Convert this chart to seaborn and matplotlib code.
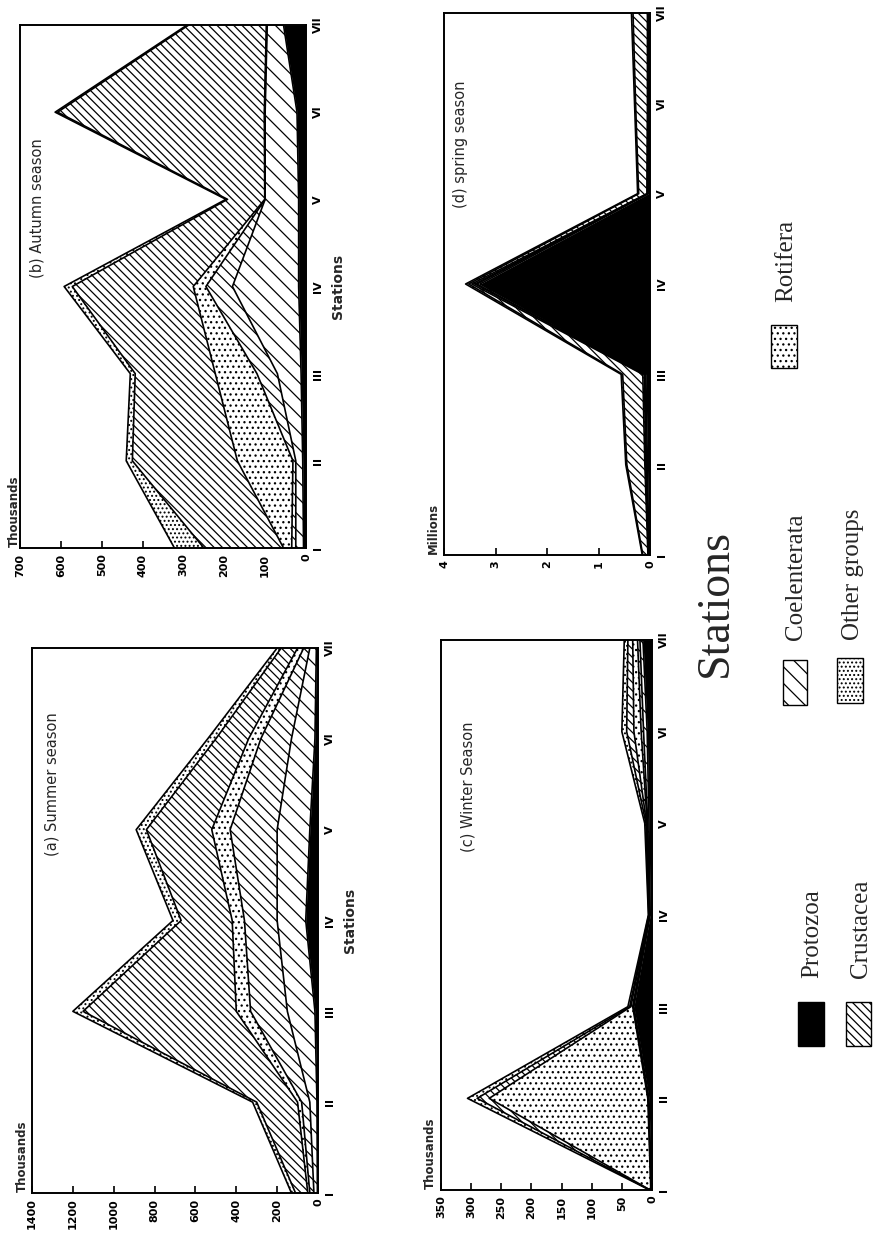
import numpy as np
import pandas as pd
import matplotlib
matplotlib.use("Agg")
import matplotlib.pyplot as plt
import seaborn as sns
from matplotlib.patches import Rectangle

sns.set_theme(style="white")
plt.rcParams['font.family'] = ['DejaVu Sans']
plt.rcParams['hatch.linewidth'] = 0.9

# ---------------- data ----------------
stations = ["I", "II", "III", "IV", "V", "VI", "VII"]
legend_groups = ["Protozoa", "Coelenterata", "Rotifera", "Crustacea", "Other groups"]

# (a) Summer season, thousands
summer_protozoa = [3, 5, 15, 60, 40, 15, 8]
summer_coelenterata = [17, 35, 135, 140, 160, 115, 32]
summer_hatched = [20, 40, 180, 160, 230, 150, 30]
summer_rotifera = [10, 20, 70, 60, 90, 60, 30]
summer_crustacea = [60, 200, 750, 250, 320, 160, 80]
summer_other = [20, 20, 50, 40, 50, 40, 20]

# (b) Autumn season, thousands
autumn_protozoa = [6, 8, 12, 18, 18, 22, 55]
autumn_coelenterata = [19, 17, 58, 162, 82, 78, 40]
autumn_hatched = [10, 7, 50, 65, 0, 1, 1]
autumn_rotifera = [20, 136, 102, 31, 1, 1, 1]
autumn_crustacea = [195, 257, 196, 296, 91, 506, 190]
autumn_other = [72, 15, 12, 20, 4, 6, 4]

# (c) Winter season, thousands
winter_protozoa = [1, 5, 30, 3, 5, 8, 15]
winter_coelenterata = [0.5, 1, 1, 1, 2, 6, 5]
winter_hatched = [0.5, 1, 1, 0.5, 1, 4, 4]
winter_rotifera = [1, 263, 3, 0.5, 1, 12, 8]
winter_crustacea = [0.5, 20, 2, 0.5, 1, 12, 8]
winter_other = [0.5, 16, 3, 0.5, 2, 8, 6]

# (d) Spring season, millions
spring_protozoa = [0.02, 0.05, 0.08, 3.30, 0.03, 0.02, 0.02]
spring_coelenterata = [0.01, 0.02, 0.02, 0.06, 0.01, 0.01, 0.01]
spring_hatched = [0.00, 0.01, 0.01, 0.04, 0.01, 0.01, 0.01]
spring_rotifera = [0.01, 0.02, 0.03, 0.06, 0.01, 0.01, 0.01]
spring_crustacea = [0.10, 0.35, 0.39, 0.06, 0.16, 0.23, 0.28]
spring_other = [0.01, 0.02, 0.03, 0.06, 0.02, 0.02, 0.03]

summer_ticks = [0, 200, 400, 600, 800, 1000, 1200, 1400]
autumn_ticks = [0, 100, 200, 300, 400, 500, 600, 700]
winter_ticks = [0, 50, 100, 150, 200, 250, 300, 350]
spring_ticks = [0, 1, 2, 3, 4]

# ---------------- layout ----------------
W, H = 881, 1238
fig = plt.figure(figsize=(W / 100, H / 100), dpi=100)
fig.patch.set_facecolor("white")


def rect(l, t, r, b):
    return [l / W, 1 - b / H, (r - l) / W, (b - t) / H]


def fx(x):
    return x / W


def fy(y):
    return 1 - y / H


layer_styles = [
    dict(facecolor="black", hatch=None),
    dict(facecolor="white", hatch="\\\\"),
    dict(facecolor="white", hatch="\\\\\\"),
    dict(facecolor="white", hatch="..."),
    dict(facecolor="white", hatch="\\\\\\\\"),
    dict(facecolor="white", hatch="...."),
]


def panel(box, layers, ticks, unit, title, title_pos, show_stations_label, unit_pos):
    ax = fig.add_axes(rect(*box))
    pos = np.arange(1, len(stations) + 1)
    cum = np.cumsum(np.array(layers, dtype=float), axis=0)
    prev = np.zeros(len(stations))
    for i, top in enumerate(cum):
        st = layer_styles[i]
        ax.fill_betweenx(pos, prev, top, facecolor=st["facecolor"], hatch=st["hatch"],
                         edgecolor="black", linewidth=0, zorder=1 + i * 0.01)
        prev = top
    for top in cum:
        df = pd.DataFrame({"value": top, "station": pos})
        sns.lineplot(data=df, x="value", y="station", orient="y", estimator=None,
                     color="black", linewidth=1.2, ax=ax, legend=False, zorder=3)
    vmax = ticks[-1]
    ax.set_xlim(vmax, 0)
    ax.set_ylim(1, 7)
    ax.set_xticks(ticks)
    ax.set_xticklabels([str(t) for t in ticks], rotation=90, fontsize=8, fontweight="bold")
    ax.tick_params(axis="x", direction="in", length=5, width=1.2, bottom=True, top=False,
                   pad=4, colors="black")
    ax.yaxis.tick_right()
    ax.set_yticks(pos)
    ax.set_yticklabels(stations, rotation=90, fontsize=8, fontweight="bold", va="center")
    ax.tick_params(axis="y", length=0, pad=5, right=True, left=False, colors="black")
    ax.set_xlabel("")
    if show_stations_label:
        ax.yaxis.set_label_position("right")
        ax.set_ylabel("Stations", rotation=90, fontsize=10, fontweight="bold", labelpad=6)
    else:
        ax.set_ylabel("")
    for s in ax.spines.values():
        s.set_visible(True)
        s.set_color("black")
        s.set_linewidth(1.4)
    ax.text(title_pos[0] * vmax, title_pos[1], title, rotation=90, ha="center", va="center",
            fontsize=10.5, zorder=5)
    fig.text(fx(unit_pos[0]), fy(unit_pos[1]), unit, rotation=90, ha="center", va="bottom",
             fontsize=8.5, fontweight="bold")
    return ax


panel((20, 25, 306, 548),
      [autumn_protozoa, autumn_coelenterata, autumn_hatched, autumn_rotifera, autumn_crustacea, autumn_other],
      autumn_ticks, "Thousands", "(b) Autumn season", (0.94, 4.9), True, (14, 547))
panel((32, 648, 318, 1193),
      [summer_protozoa, summer_coelenterata, summer_hatched, summer_rotifera, summer_crustacea, summer_other],
      summer_ticks, "Thousands", "(a) Summer season", (0.93, 5.5), True, (22, 1192))
panel((444, 13, 650, 555),
      [spring_protozoa, spring_coelenterata, spring_hatched, spring_rotifera, spring_crustacea, spring_other],
      spring_ticks, "Millions", "(d) spring season", (0.92, 5.55), False, (433, 554))
panel((441, 640, 652, 1190),
      [winter_protozoa, winter_coelenterata, winter_hatched, winter_rotifera, winter_crustacea, winter_other],
      winter_ticks, "Thousands", "(c) Winter Season", (0.87, 5.4), False, (430, 1189))

# big axis caption
fig.text(fx(716), fy(603), "Stations", rotation=90, ha="center", va="center",
         fontsize=33, family="Liberation Serif")

# legend (boxes + labels), drawn rotated like the page
legend_items = [
    # name, style index, box (x0, y0, x1, y1) in px, label centre x, label start y
    ("Protozoa", 0, (798, 1002, 824, 1046), 812, 978),
    ("Crustacea", 4, (846, 1002, 871, 1046), 861, 978),
    ("Coelenterata", 1, (783, 660, 807, 705), 796, 640),
    ("Other groups", 5, (837, 658, 863, 703), 853, 640),
    ("Rotifera", 3, (771, 325, 797, 368), 786, 302),
]
for name, si, (x0, y0, x1, y1), lx, ly in legend_items:
    st = layer_styles[si]
    fig.add_artist(Rectangle((fx(x0), fy(y1)), (x1 - x0) / W, (y1 - y0) / H,
                             transform=fig.transFigure, facecolor=st["facecolor"],
                             hatch=st["hatch"], edgecolor="black", linewidth=1.0))
    fig.text(fx(lx), fy(ly), name, rotation=90, ha="center", va="bottom",
             fontsize=18, family="Liberation Serif")

fig.savefig("out.png", dpi=100, facecolor="white")
